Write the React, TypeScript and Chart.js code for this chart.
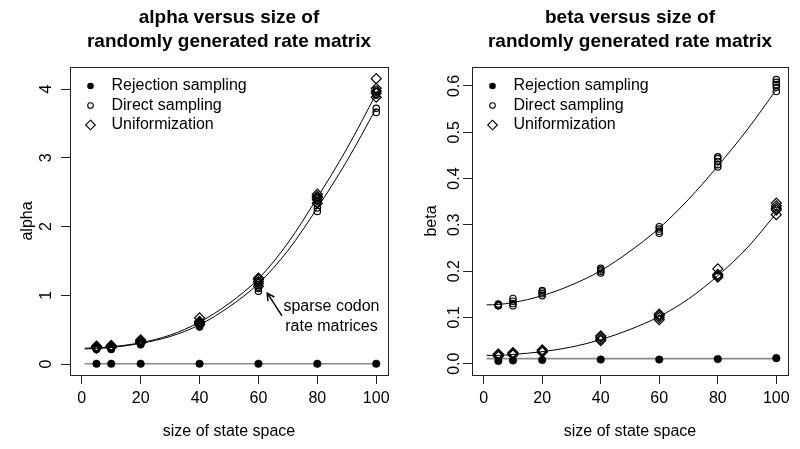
import React, { useEffect, useRef } from "react";
import { Chart, registerables } from "chart.js";

Chart.register(...registerables);

const FONT = '"Liberation Sans", Arial, Helvetica, sans-serif';

// ---------- shared ----------
const sizes = [5, 10, 20, 40, 60, 80, 100];
const xTicks = [0, 20, 40, 60, 80, 100];
const xTickLabels = ["0", "20", "40", "60", "80", "100"];
const curveX = [1, 5, 10, 20, 30, 40, 50, 60, 70, 80, 90, 100];
const rejectionLineX = [1, 100];
const legendLabels = ["Rejection sampling", "Direct sampling", "Uniformization"];
const xTitle = "size of state space";

// ---------- alpha panel ----------
const alphaTitle = ["alpha versus size of", "randomly generated rate matrix"];
const alphaYTitle = "alpha";
const alphaYTicks = [0, 1, 2, 3, 4];
const alphaYTickLabels = ["0", "1", "2", "3", "4"];
const alphaRejection = [0.004, 0.004, 0.004, 0.004, 0.004, 0.004, 0.004];
const alphaRejectionLine = [0.004, 0.004];
const alphaDirect = [
  [0.22, 0.23, 0.21, 0.24, 0.22],
  [0.22, 0.24, 0.23, 0.21, 0.25],
  [0.28, 0.3, 0.31, 0.29, 0.32],
  [0.54, 0.57, 0.59, 0.56, 0.61],
  [1.06, 1.1, 1.14, 1.18, 1.21],
  [2.22, 2.27, 2.33, 2.38, 2.42],
  [3.66, 3.72, 3.91, 3.96, 3.99],
];
const alphaUniform = [
  [0.23, 0.25, 0.24, 0.26, 0.24],
  [0.24, 0.26, 0.25, 0.27, 0.25],
  [0.31, 0.33, 0.32, 0.35, 0.33],
  [0.57, 0.6, 0.62, 0.59, 0.67],
  [1.13, 1.17, 1.2, 1.23, 1.25],
  [2.34, 2.39, 2.42, 2.44, 2.47],
  [3.88, 3.94, 3.97, 4.01, 4.15],
];
const alphaUniformCurve = [0.23, 0.235, 0.25, 0.31, 0.42, 0.61, 0.88, 1.24, 1.76, 2.42, 3.13, 3.93];
const alphaDirectCurve = [0.22, 0.225, 0.24, 0.3, 0.4, 0.57, 0.83, 1.17, 1.65, 2.27, 2.95, 3.72];
const alphaAnnotationText = ["sparse codon", "rate matrices"];
const alphaAnnotationTextX = 84.8;
const alphaAnnotationTextY = [0.835, 0.545];
const alphaArrowFrom = [68, 0.7];
const alphaArrowTo = [63, 1.03];

// ---------- beta panel ----------
const betaTitle = ["beta versus size of", "randomly generated rate matrix"];
const betaYTitle = "beta";
const betaYTicks = [0, 0.1, 0.2, 0.3, 0.4, 0.5, 0.6];
const betaYTickLabels = ["0.0", "0.1", "0.2", "0.3", "0.4", "0.5", "0.6"];
const betaRejection = [0.006, 0.007, 0.008, 0.009, 0.009, 0.01, 0.012];
const betaRejectionLine = [0.011, 0.011];
const betaDirect = [
  [0.125, 0.127, 0.129, 0.126],
  [0.125, 0.13, 0.135, 0.141],
  [0.147, 0.151, 0.155, 0.158],
  [0.196, 0.2, 0.203, 0.206],
  [0.282, 0.286, 0.291, 0.296],
  [0.425, 0.43, 0.437, 0.443, 0.447],
  [0.588, 0.597, 0.603, 0.608, 0.614],
];
const betaUniform = [
  [0.016, 0.019, 0.021],
  [0.019, 0.022, 0.024],
  [0.025, 0.027, 0.03],
  [0.05, 0.053, 0.057, 0.06],
  [0.095, 0.1, 0.104, 0.107],
  [0.187, 0.19, 0.193, 0.205],
  [0.322, 0.332, 0.336, 0.341, 0.347],
];
const betaDirectCurve = [0.127, 0.128, 0.132, 0.147, 0.17, 0.201, 0.243, 0.293, 0.355, 0.427, 0.505, 0.592];
const betaUniformCurve = [0.018, 0.018, 0.02, 0.026, 0.036, 0.052, 0.074, 0.102, 0.14, 0.19, 0.25, 0.325];

type Panel = {
  title: string[];
  yTitle: string;
  yTicks: number[];
  yTickLabels: string[];
  yMin: number;
  yMax: number;
  rejection: number[];
  rejectionLine: number[];
  direct: number[][];
  uniform: number[][];
  curves: number[][];
  plotLeft: number;
  plotRight: number;
  yLabelGap: number;
  yTitleGap: number;
  annotation?: {
    text: string[];
    textX: number;
    textY: number[];
    from: number[];
    to: number[];
  };
};

const CANVAS_W = 400;
const CANVAS_H = 449;
const PLOT_TOP = 67;
const PLOT_BOTTOM = 375;

function flatten(groups: number[][]) {
  const out: { x: number; y: number }[] = [];
  groups.forEach((g, i) => g.forEach((v) => out.push({ x: sizes[i], y: v })));
  return out;
}

function makePlugin(p: Panel) {
  return {
    id: "rdecor",
    afterDraw(chart: any) {
      const { ctx, chartArea, scales } = chart;
      const { left, right, top, bottom } = chartArea;
      const cx = (left + right) / 2;
      ctx.save();
      // box
      ctx.strokeStyle = "#222";
      ctx.lineWidth = 1;
      ctx.strokeRect(Math.round(left) + 0.5, Math.round(top) + 0.5, Math.round(right - left), Math.round(bottom - top));
      ctx.fillStyle = "#000";
      // titles
      ctx.font = `bold 19px ${FONT}`;
      ctx.textAlign = "center";
      ctx.textBaseline = "middle";
      p.title.forEach((t, i) => ctx.fillText(t, cx, 18 + i * 23.5));
      // x title
      ctx.font = `16px ${FONT}`;
      ctx.fillText(xTitle, cx, 432);
      // y tick labels, rotated
      p.yTicks.forEach((v, i) => {
        const y = scales.y.getPixelForValue(v);
        ctx.save();
        ctx.translate(left - p.yLabelGap, y);
        ctx.rotate(-Math.PI / 2);
        ctx.fillText(p.yTickLabels[i], 0, 0);
        ctx.restore();
      });
      // y title
      ctx.save();
      ctx.translate(left - p.yTitleGap, (top + bottom) / 2);
      ctx.rotate(-Math.PI / 2);
      ctx.fillText(p.yTitle, 0, 0);
      ctx.restore();
      // legend
      const lx = left + 20.5;
      const tx = left + 41.5;
      const rows = [top + 19, top + 38.5, top + 58];
      ctx.textAlign = "left";
      legendLabels.forEach((lab, i) => ctx.fillText(lab, tx, rows[i]));
      ctx.strokeStyle = "#000";
      ctx.lineWidth = 1.1;
      ctx.beginPath();
      ctx.arc(lx, rows[0], 3.3, 0, Math.PI * 2);
      ctx.fill();
      ctx.beginPath();
      ctx.arc(lx, rows[1], 2.8, 0, Math.PI * 2);
      ctx.stroke();
      ctx.beginPath();
      ctx.moveTo(lx, rows[2] - 4.8);
      ctx.lineTo(lx + 4.8, rows[2]);
      ctx.lineTo(lx, rows[2] + 4.8);
      ctx.lineTo(lx - 4.8, rows[2]);
      ctx.closePath();
      ctx.stroke();
      // annotation
      if (p.annotation) {
        const a = p.annotation;
        ctx.textAlign = "center";
        const ax = scales.x.getPixelForValue(a.textX);
        a.text.forEach((t, i) => ctx.fillText(t, ax, scales.y.getPixelForValue(a.textY[i])));
        const x1 = scales.x.getPixelForValue(a.from[0]);
        const y1 = scales.y.getPixelForValue(a.from[1]);
        const x2 = scales.x.getPixelForValue(a.to[0]);
        const y2 = scales.y.getPixelForValue(a.to[1]);
        ctx.lineWidth = 1.5;
        ctx.beginPath();
        ctx.moveTo(x1, y1);
        ctx.lineTo(x2, y2);
        const ang = Math.atan2(y1 - y2, x1 - x2);
        const hl = 8;
        ctx.moveTo(x2 + hl * Math.cos(ang - 0.5), y2 + hl * Math.sin(ang - 0.5));
        ctx.lineTo(x2, y2);
        ctx.lineTo(x2 + hl * Math.cos(ang + 0.5), y2 + hl * Math.sin(ang + 0.5));
        ctx.stroke();
      }
      ctx.restore();
    },
  };
}

function makeConfig(p: Panel): any {
  const gridOpts = {
    display: true,
    drawOnChartArea: false,
    drawTicks: true,
    tickLength: 9,
    color: "#222",
    lineWidth: 1,
  };
  const curveDs = (ys: number[]) => ({
    type: "scatter",
    data: curveX.map((x, i) => ({ x, y: ys[i] })),
    showLine: true,
    borderColor: "#000",
    borderWidth: 1,
    pointRadius: 0,
    cubicInterpolationMode: "monotone",
    fill: false,
  });
  return {
    type: "scatter",
    data: {
      datasets: [
        {
          data: sizes.map((x, i) => ({ x, y: p.rejection[i] })),
          pointStyle: "circle",
          pointRadius: 3.8,
          backgroundColor: "#000",
          borderColor: "#000",
          borderWidth: 0.5,
        },
        {
          data: flatten(p.direct),
          pointStyle: "circle",
          pointRadius: 3.2,
          backgroundColor: "rgba(0,0,0,0)",
          borderColor: "#000",
          borderWidth: 1.2,
        },
        {
          data: flatten(p.uniform),
          pointStyle: "rectRot",
          pointRadius: 5,
          backgroundColor: "rgba(0,0,0,0)",
          borderColor: "#000",
          borderWidth: 1.2,
        },
        curveDs(p.curves[0]),
        curveDs(p.curves[1]),
        {
          type: "scatter",
          data: rejectionLineX.map((x, i) => ({ x, y: p.rejectionLine[i] })),
          showLine: true,
          borderColor: "#8a8a8a",
          borderWidth: 1.6,
          pointRadius: 0,
        },
      ],
    },
    options: {
      responsive: false,
      maintainAspectRatio: false,
      animation: false,
      devicePixelRatio: 1,
      layout: { padding: { left: 0, right: CANVAS_W - p.plotRight, top: PLOT_TOP, bottom: 0 } },
      plugins: { legend: { display: false }, tooltip: { enabled: false }, title: { display: false } },
      scales: {
        x: {
          type: "linear",
          min: -4,
          max: 104,
          afterBuildTicks: (s: any) => {
            s.ticks = xTicks.map((v) => ({ value: v }));
          },
          afterFit: (s: any) => {
            s.height = CANVAS_H - PLOT_BOTTOM;
          },
          grid: gridOpts,
          border: { display: false },
          ticks: {
            font: { size: 16, family: FONT },
            color: "#000",
            padding: 5,
            maxRotation: 0,
            autoSkip: false,
            callback: (v: number) => xTickLabels[xTicks.indexOf(v)] ?? "",
          },
        },
        y: {
          type: "linear",
          min: p.yMin,
          max: p.yMax,
          afterBuildTicks: (s: any) => {
            s.ticks = p.yTicks.map((v) => ({ value: v }));
          },
          afterFit: (s: any) => {
            s.width = p.plotLeft;
          },
          grid: gridOpts,
          border: { display: false },
          ticks: { display: false },
        },
      },
    },
    plugins: [makePlugin(p)],
  };
}

function ChartPanel({ panel }: { panel: Panel }) {
  const ref = useRef<HTMLCanvasElement | null>(null);
  useEffect(() => {
    if (!ref.current) return;
    const chart = new Chart(ref.current, makeConfig(panel));
    return () => chart.destroy();
  }, [panel]);
  return <canvas ref={ref} width={CANVAS_W} height={CANVAS_H} style={{ display: "block", width: CANVAS_W, height: CANVAS_H }} />;
}

const alphaPanel: Panel = {
  title: alphaTitle,
  yTitle: alphaYTitle,
  yTicks: alphaYTicks,
  yTickLabels: alphaYTickLabels,
  yMin: -0.16,
  yMax: 4.32,
  rejection: alphaRejection,
  rejectionLine: alphaRejectionLine,
  direct: alphaDirect,
  uniform: alphaUniform,
  curves: [alphaUniformCurve, alphaDirectCurve],
  plotLeft: 70,
  plotRight: 388,
  yLabelGap: 23,
  yTitleGap: 42,
  annotation: {
    text: alphaAnnotationText,
    textX: alphaAnnotationTextX,
    textY: alphaAnnotationTextY,
    from: alphaArrowFrom,
    to: alphaArrowTo,
  },
};

const betaPanel: Panel = {
  title: betaTitle,
  yTitle: betaYTitle,
  yTicks: betaYTicks,
  yTickLabels: betaYTickLabels,
  yMin: -0.0244,
  yMax: 0.641,
  rejection: betaRejection,
  rejectionLine: betaRejectionLine,
  direct: betaDirect,
  uniform: betaUniform,
  curves: [betaDirectCurve, betaUniformCurve],
  plotLeft: 72,
  plotRight: 388,
  yLabelGap: 17,
  yTitleGap: 40,
};

export default function App() {
  return (
    <div
      style={{
        position: "fixed",
        left: 0,
        top: 0,
        width: 800,
        height: 449,
        background: "#fff",
        display: "flex",
      }}
    >
      <ChartPanel panel={alphaPanel} />
      <ChartPanel panel={betaPanel} />
    </div>
  );
}
